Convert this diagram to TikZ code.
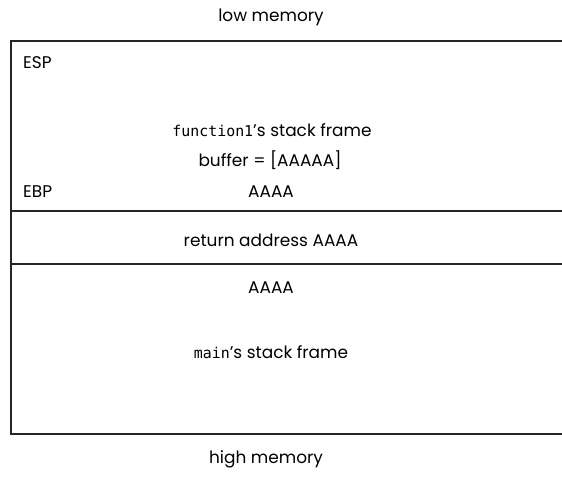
\documentclass[tikz,border=0pt]{standalone}
\usepackage{fontspec}
\setmainfont{Poppins}
\newfontfamily\codefont{DejaVu Sans Mono}[Scale=0.88]
\usepackage{tikz}
\usetikzlibrary{positioning}

\tikzset{
  lbl/.style={font=\fontsize{17}{19}\selectfont, inner sep=0pt},
  frameline/.style={line width=1.8bp, draw=black!85}
}

\begin{document}
\begin{tikzpicture}[x=1bp,y=-1bp]
\useasboundingbox (0,0) rectangle (562,479);
% the stack, its right side runs off the page
\draw[frameline](562,41)--(11,41)--(11,434)--(562,434);
\draw[frameline](11,211)--(562,211);
\draw[frameline](11,264)--(562,264);
% labels
\node[lbl](low) at (271,17){low memory};
\node[lbl,anchor=west](esp) at (23,63){ESP};
\node[lbl](f1) at (272,130){{\codefont function1}’s stack frame};
\node[lbl](buf) at (270,160){buffer = [AAAAA]};
\node[lbl,anchor=west](ebp) at (23,192){EBP};
\node[lbl](a1) at (271,192){AAAA};
\node[lbl](ret) at (271,240){return address AAAA};
\node[lbl](a2) at (271,288){AAAA};
\node[lbl](mainf) at (271,352){{\codefont main}’s stack frame};
\node[lbl](high) at (266,459){high memory};
\end{tikzpicture}
\end{document}
